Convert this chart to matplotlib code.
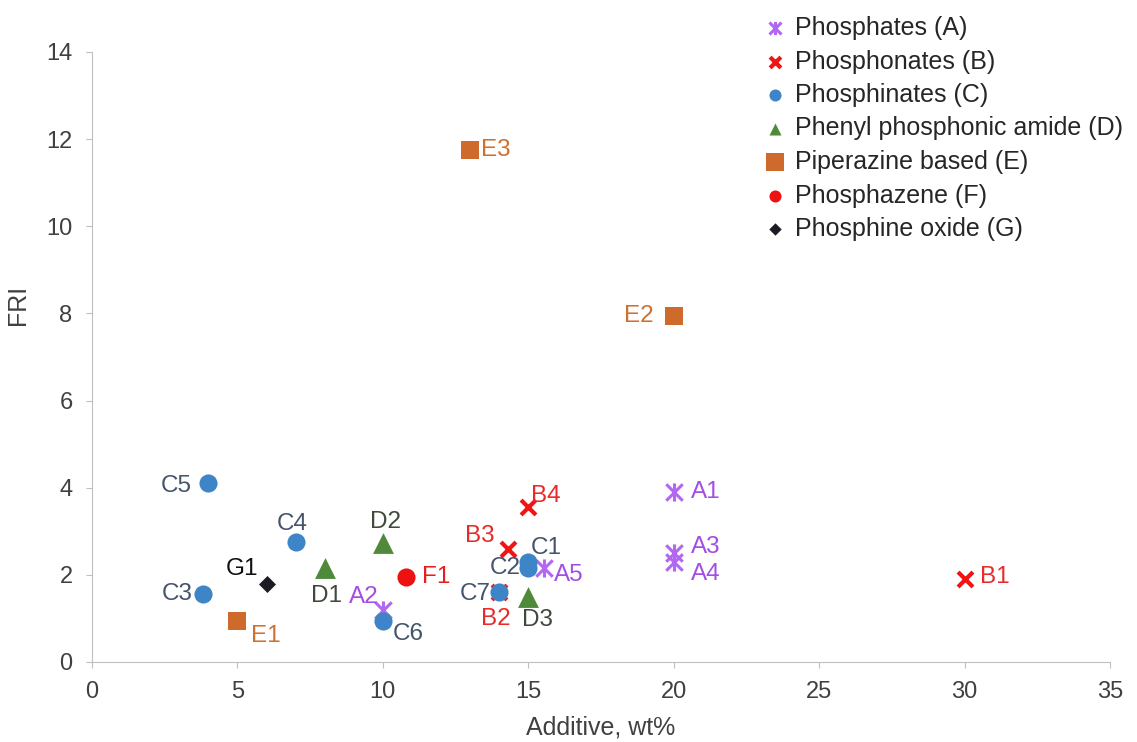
import matplotlib
matplotlib.use("Agg")
import matplotlib.pyplot as plt
from matplotlib.path import Path

plt.rcParams['font.family'] = ['Liberation Sans', 'DejaVu Sans']

# ---- data ----
A_names = ["A1", "A2", "A3", "A4", "A5"]
A_x = [20, 10, 20, 20, 15.55]
A_y = [3.9, 1.2, 2.5, 2.3, 2.15]

B_names = ["B1", "B2", "B3", "B4"]
B_x = [30, 14, 14.3, 15]
B_y = [1.9, 1.6, 2.6, 3.55]

C_names = ["C1", "C2", "C3", "C4", "C5", "C6", "C7"]
C_x = [15, 15, 3.8, 7, 4, 10, 14]
C_y = [2.3, 2.15, 1.55, 2.75, 4.1, 0.95, 1.6]

D_names = ["D1", "D2", "D3"]
D_x = [8, 10, 15]
D_y = [2.15, 2.73, 1.5]

E_names = ["E1", "E2", "E3"]
E_x = [5, 20, 13]
E_y = [0.93, 7.95, 11.75]

F_names = ["F1"]
F_x = [10.8]
F_y = [1.95]

G_names = ["G1"]
G_x = [6]
G_y = [1.8]

series_labels = ["Phosphates (A)", "Phosphonates (B)", "Phosphinates (C)",
                 "Phenyl phosphonic amide (D)", "Piperazine based (E)",
                 "Phosphazene (F)", "Phosphine oxide (G)"]
x_ticks = [0, 5, 10, 15, 20, 25, 30, 35]
y_ticks = [0, 2, 4, 6, 8, 10, 12, 14]

# ---- style ----
# Excel-like "star" marker: X + vertical bar
star = Path(
    [(-1, -1), (1, 1), (-1, 1), (1, -1), (0, -1.1), (0, 1.1)],
    [Path.MOVETO, Path.LINETO, Path.MOVETO, Path.LINETO, Path.MOVETO, Path.LINETO])

styles = [
    dict(marker=star, color="#B266F2", tcolor="#A24DE3", s=170, lw=2.2, ls=90),
    dict(marker="x", color="#F01414", tcolor="#E82A2A", s=115, lw=3.0, ls=60),
    dict(marker="o", color="#3D85C6", tcolor="#44546A", s=170, lw=0, ls=75),
    dict(marker="^", color="#4E8A3A", tcolor="#3F4A3A", s=225, lw=0, ls=75),
    dict(marker="s", color="#CD6A2C", tcolor="#D0702E", s=185, lw=0, ls=150),
    dict(marker="o", color="#EE1111", tcolor="#E81E1E", s=170, lw=0, ls=75),
    dict(marker="D", color="#1B1B24", tcolor="#111111", s=75, lw=0, ls=40),
]

# label offsets in pixels (dx, dy, ha)
offsets = {
    "A1": (17, 0, "left"), "A2": (-4, 13, "right"), "A3": (17, 6, "left"),
    "A4": (17, -12, "left"), "A5": (10, -7, "left"),
    "B1": (15, 2, "left"), "B2": (-3, -27, "center"), "B3": (-13, 13, "right"),
    "B4": (3, 11, "left"),
    "C1": (2, 14, "left"), "C2": (-8, 0, "right"), "C3": (-10, 0, "right"),
    "C4": (-3, 18, "center"), "C5": (-17, -3, "right"), "C6": (10, -13, "left"),
    "C7": (-8, -2, "right"),
    "D1": (2, -28, "center"), "D2": (3, 21, "center"), "D3": (9, -23, "center"),
    "E1": (14, -15, "left"), "E2": (-20, 0, "right"), "E3": (11, 0, "left"),
    "F1": (16, 0, "left"),
    "G1": (-8, 15, "right"),
}

fig = plt.figure(figsize=(11.37, 7.42), dpi=100)
ax = fig.add_axes([92 / 1137, 1 - 662 / 742, 1018 / 1137, 610 / 742])

groups = [(A_names, A_x, A_y), (B_names, B_x, B_y), (C_names, C_x, C_y),
          (D_names, D_x, D_y), (E_names, E_x, E_y), (F_names, F_x, F_y),
          (G_names, G_x, G_y)]

handles = []
for (names, xs, ys), st, lab in zip(groups, styles, series_labels):
    h = ax.scatter(xs, ys, marker=st["marker"], color=st["color"], s=st["s"],
                   linewidths=st["lw"], label=lab, zorder=3)
    handles.append(h)
    for n, x, y in zip(names, xs, ys):
        dx, dy, ha = offsets[n]
        ax.annotate(n, (x, y), xytext=(dx, dy), textcoords="offset pixels",
                    ha=ha, va="center", fontsize=17.5, color=st["tcolor"], zorder=4)

ax.set_xlim(0, 35)
ax.set_ylim(0, 14)
ax.set_xticks(x_ticks)
ax.set_yticks(y_ticks)
ax.tick_params(axis="both", labelsize=17, colors="#404040", length=4,
               color="#BFBFBF", direction="out", pad=10)
for sp in ["top", "right"]:
    ax.spines[sp].set_visible(False)
for sp in ["left", "bottom"]:
    ax.spines[sp].set_color("#BFBFBF")
ax.set_xlabel("Additive, wt%", fontsize=18, color="#404040", labelpad=9)
ax.set_ylabel("FRI", fontsize=18, color="#404040")
ax.yaxis.set_label_coords(-0.061, 0.585)

leg = fig.legend(handles=handles, loc="upper left",
                 bbox_to_anchor=(757 / 1137, 1 - 6 / 742),
                 frameon=False, fontsize=18, handletextpad=0.52,
                 handlelength=0.6, labelspacing=0.38, borderaxespad=0,
                 labelcolor="#262626")
for lh, st in zip(leg.legend_handles, styles):
    lh.set_sizes([st["ls"]])

fig.savefig("out.png", dpi=100)
